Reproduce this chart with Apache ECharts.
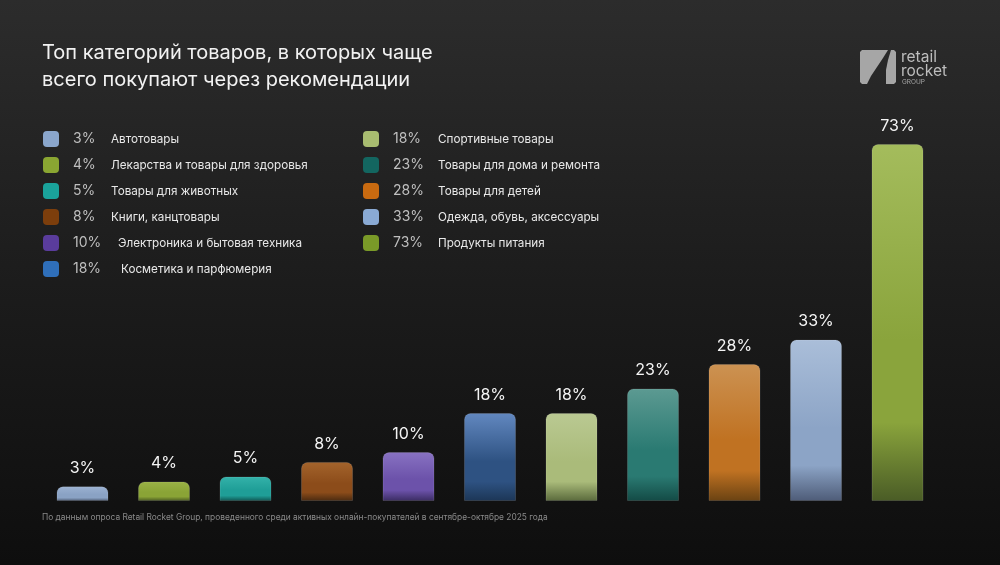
<!DOCTYPE html>
<html>
<head>
<meta charset="utf-8">
<script src="https://cdn.jsdelivr.net/npm/echarts@6/dist/echarts.min.js"></script>
<style>
html,body{margin:0;padding:0;background:#111;}
#chart{width:1000px;height:565px;}
</style>
</head>
<body>
<div id="chart"></div>
<script>
const categories = [
  'Автотовары',
  'Лекарства и товары для здоровья',
  'Товары для животных',
  'Книги, канцтовары',
  'Электроника и бытовая техника',
  'Косметика и парфюмерия',
  'Спортивные товары',
  'Товары для дома и ремонта',
  'Товары для детей',
  'Одежда, обувь, аксессуары',
  'Продукты питания'
];
const values = [3, 4, 5, 8, 10, 18, 18, 23, 28, 33, 73];
const legendColors = ['#8aa6cc','#8aa632','#1aa39b','#7c3e0c','#5a3c9c','#2f6fba','#a8bc70','#136660','#c86a10','#8aaad4','#7a9a28'];
const barTopColors = ['#9cb2d2','#9ab246','#34b2aa','#a4642c','#8872c2','#6288c0','#bac992','#5c9a92','#cc9252','#aabed9','#a4bc5c'];
const barMidColors = ['#8aa2c4','#8aa436','#1f9e97','#8c4c1a','#6c52aa','#2e5282','#aabb7a','#2a7a72','#c07222','#8ca4c6','#8aa43c'];
const barBotColors = ['#4e5c74','#4a5a22','#0f5652','#4a2a10','#3a2c62','#1c3656','#5a6a3c','#134a45','#6a4212','#4e5c78','#4a5c26'];
const title = 'Топ категорий товаров, в которых чаще\nвсего покупают через рекомендации';
const footnote = 'По данным опроса Retail Rocket Group, проведенного среди активных онлайн-покупателей в сентябре-октябре 2025 года';

const chart = echarts.init(document.getElementById('chart'));

const series = categories.map((name, i) => ({
  name: name,
  type: 'bar',
  barWidth: 52,
  barGap: '-100%',
  data: values.map((v, j) => (j === i ? v : null)),
  itemStyle: {
    borderRadius: [6, 6, 0, 0],
    borderColor: 'rgba(255,255,255,0.12)',
    borderWidth: 1,
    color: new echarts.graphic.LinearGradient(0, 0, 0, 1, [
      { offset: 0, color: barTopColors[i] },
      { offset: 0.55, color: barMidColors[i] },
      { offset: 0.78, color: barMidColors[i] },
      { offset: 1, color: barBotColors[i] }
    ])
  },
  label: {
    show: true,
    position: 'top',
    distance: 10,
    color: '#f4f4f4',
    fontSize: 16,
    fontFamily: 'Inter',
    formatter: '{c}%'
  },
  emphasis: { disabled: true }
}));

function legendFormatter(name) {
  const i = categories.indexOf(name);
  let key = i < 6 ? 'p' : 'q';
  if (i === 4) key = 'p2';
  if (i === 5) key = 'p3';
  return '{' + key + '|' + values[i] + '%}{n|' + name + '}';
}
const pctStyle = { padding: [0, 0, 0, 9], fontSize: 14, color: '#bfbfbf', fontFamily: 'Inter', lineHeight: 16 };
const richLegend = {
  p: Object.assign({ width: 38 }, pctStyle),
  p2: Object.assign({ width: 45 }, pctStyle),
  p3: Object.assign({ width: 48 }, pctStyle),
  q: Object.assign({ width: 45 }, pctStyle),
  n: { fontSize: 11.7, color: '#e8e8e8', fontFamily: 'Inter', lineHeight: 16 }
};
function legendData(from, to) {
  return categories.slice(from, to).map((name, k) => ({
    name: name,
    icon: 'roundRect',
    itemStyle: { color: legendColors[from + k], borderWidth: 0 }
  }));
}

const option = {
  backgroundColor: new echarts.graphic.LinearGradient(0, 0, 0, 1, [
    { offset: 0, color: '#2c2c2c' },
    { offset: 0.5, color: '#1c1c1c' },
    { offset: 1, color: '#0e0e0e' }
  ]),
  animation: false,
  title: [
    {
      text: title,
      left: 42,
      top: 39,
      padding: 0,
      textStyle: { color: '#f2f2f2', fontSize: 20, fontWeight: 'normal', fontFamily: 'Inter', lineHeight: 27 }
    },
    {
      text: footnote,
      left: 42,
      top: 513,
      padding: 0,
      textStyle: { color: '#8a8a8a', fontSize: 8.4, fontWeight: 'normal', fontFamily: 'Inter' }
    }
  ],
  legend: [
    {
      data: legendData(0, 6),
      orient: 'vertical',
      left: 43,
      top: 131,
      padding: 0,
      itemWidth: 16,
      itemHeight: 16,
      itemGap: 10,
      selectedMode: false,
      formatter: legendFormatter,
      textStyle: { rich: richLegend }
    },
    {
      data: legendData(6, 11),
      orient: 'vertical',
      left: 363,
      top: 131,
      padding: 0,
      itemWidth: 16,
      itemHeight: 16,
      itemGap: 10,
      selectedMode: false,
      formatter: legendFormatter,
      textStyle: { rich: richLegend }
    }
  ],
  grid: { left: 41.75, right: 61.75, top: 144, bottom: 64 },
  xAxis: {
    type: 'category',
    data: categories,
    axisLine: { show: false },
    axisTick: { show: false },
    axisLabel: { show: false }
  },
  yAxis: {
    type: 'value',
    min: 0,
    max: 73,
    show: false,
    splitLine: { show: false }
  },
  series: series,
  graphic: [
    {
      type: 'polygon',
      shape: { points: [[862, 50], [888, 50], [883, 58], [877, 67], [871, 76], [867, 84], [862, 84], [860, 82], [860, 52]] },
      style: { fill: '#a6a6a6' }
    },
    {
      type: 'polygon',
      shape: { points: [[891, 50], [894, 50], [896, 52], [896, 82], [894, 84], [886, 84], [886, 70], [888, 60]] },
      style: { fill: '#a6a6a6' }
    },
    {
      type: 'text', x: 901, y: 57.5,
      style: { text: 'retail', fill: '#bdbdbd', font: '15.5px Inter', verticalAlign: 'middle' }
    },
    {
      type: 'text', x: 901, y: 71.5,
      style: { text: 'rocket', fill: '#bdbdbd', font: '15.5px Inter', verticalAlign: 'middle' }
    },
    {
      type: 'text', x: 902, y: 82,
      style: { text: 'GROUP', fill: '#a8a8a8', font: '6.5px Inter', verticalAlign: 'middle' }
    }
  ]
};
chart.setOption(option);
</script>
</body>
</html>
